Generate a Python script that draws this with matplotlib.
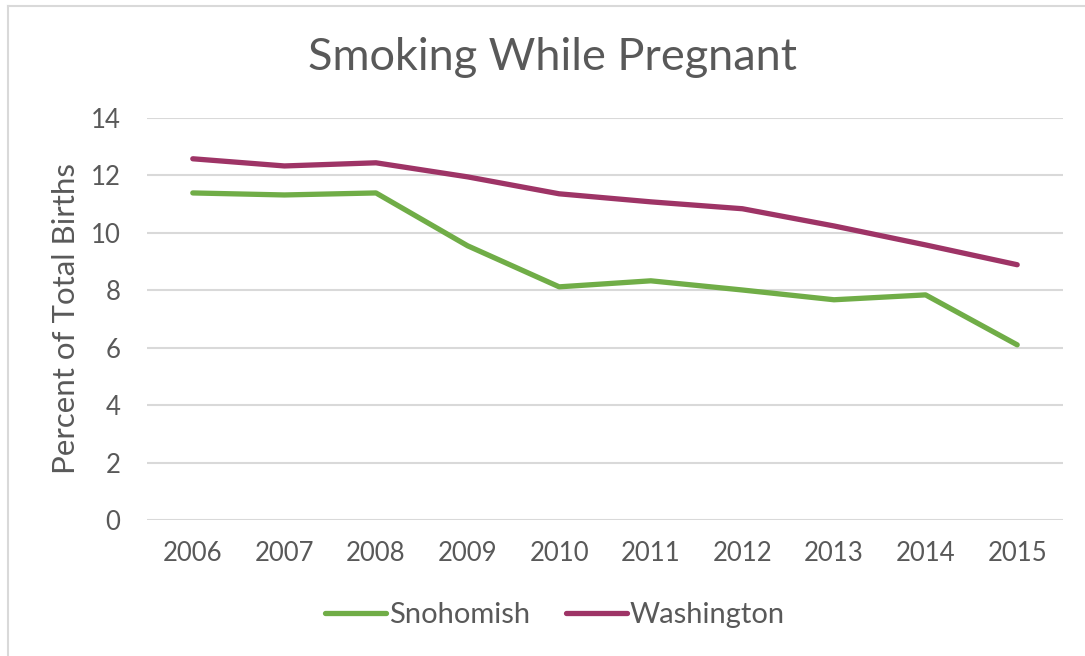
import matplotlib.pyplot as plt
from matplotlib.lines import Line2D

years = ['2006', '2007', '2008', '2009', '2010', '2011', '2012', '2013', '2014', '2015']
snohomish = [11.39, 11.32, 11.39, 9.55, 8.12, 8.33, 8.01, 7.67, 7.84, 6.10]
washington = [12.58, 12.33, 12.44, 11.95, 11.36, 11.08, 10.84, 10.24, 9.58, 8.89]

plt.rcParams['font.family'] = ['Lato', 'DejaVu Sans']
txt = '#595959'

fig = plt.figure(figsize=(10.85, 6.56), dpi=100)
ax = fig.add_axes([147/1085, 1 - 520/656, (1063 - 147)/1085, (520 - 118)/656])

x = range(len(years))
ax.plot(x, snohomish, color='#70AD47', lw=3.8, solid_capstyle='round', label='Snohomish')
ax.plot(x, washington, color='#9E3466', lw=3.8, solid_capstyle='round', label='Washington')

ax.set_xlim(-0.5, len(years) - 0.5)
ax.set_ylim(0, 14)
ax.set_yticks(range(0, 15, 2))
ax.set_xticks(list(x))
ax.set_xticklabels(years)
ax.grid(axis='y', color='#D9D9D9', lw=1.5)
ax.set_axisbelow(True)
for s in ax.spines.values():
    s.set_visible(False)
ax.tick_params(length=0, labelsize=18.5, colors=txt)
ax.tick_params(axis='x', pad=15)
ax.tick_params(axis='y', pad=19)
ax.set_ylabel('Percent of Total Births', fontsize=22.5, color=txt, labelpad=8)

fig.text(552/1085, 1 - 57/656, 'Smoking While Pregnant', ha='center', va='center',
         fontsize=32.5, color=txt)

fig.legend(loc='center', bbox_to_anchor=(555/1085, 1 - 615/656), ncol=2, frameon=False,
           fontsize=21, labelcolor=txt, handlelength=2.1, handletextpad=0.1, columnspacing=1.2)

# light frame visible on top and left
fig.add_artist(Line2D([8/1085, 1], [1 - 6/656, 1 - 6/656], color='#D9D9D9', lw=1.5))
fig.add_artist(Line2D([8/1085, 8/1085], [0, 1 - 6/656], color='#D9D9D9', lw=1.5))

fig.savefig('out.png', dpi=100, facecolor='white')
